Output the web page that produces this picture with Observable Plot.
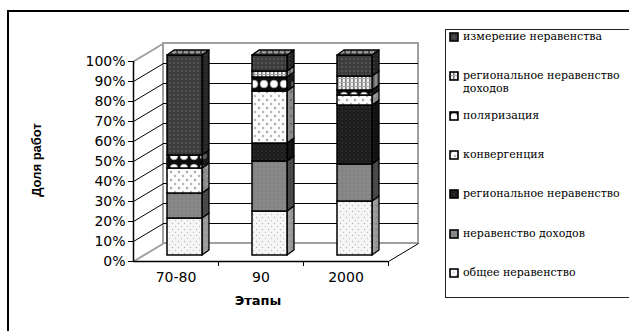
<!DOCTYPE html>
<html><head><meta charset="utf-8">
<script src="https://cdn.jsdelivr.net/npm/d3@7"></script>
<script src="https://cdn.jsdelivr.net/npm/@observablehq/plot@0.6"></script>
<style>
html,body{margin:0;padding:0;background:#fff;}
body{width:629px;height:331px;overflow:hidden;position:relative;}
#frame{position:absolute;left:7px;top:10px;width:700px;height:400px;border:2px solid #000;box-sizing:border-box;}
#chart{position:absolute;left:0;top:0;}
#legend{position:absolute;left:445px;top:29px;width:250px;height:269px;border:1px solid #222;box-sizing:border-box;font-family:"DejaVu Serif",serif;font-size:11px;color:#000;}
.row{position:absolute;left:3px;display:flex;align-items:flex-start;line-height:13px;}
.row svg{margin-top:2px;margin-right:4px;flex:none;}
.row span{max-width:168px;}
#ytitle{position:absolute;left:36px;top:160px;transform:translate(-50%,-50%) rotate(-90deg);font-family:"Liberation Sans",Arial,sans-serif;font-weight:bold;font-size:13px;white-space:nowrap;}
#xtitle{position:absolute;left:258px;top:300px;transform:translate(-50%,-50%);font-family:"DejaVu Sans",sans-serif;font-weight:bold;font-size:13px;white-space:nowrap;}
</style>
</head><body>
<svg width="0" height="0" style="position:absolute">
<defs>
<pattern id="f0" width="6" height="6" patternUnits="userSpaceOnUse"><rect width="6" height="6" fill="#f6f6f6"/><circle cx="1.5" cy="1.5" r="0.7" fill="#b4b4b4"/><circle cx="4.5" cy="4.5" r="0.7" fill="#c4c4c4"/></pattern>
<pattern id="s0" width="6" height="6" patternUnits="userSpaceOnUse"><rect width="6" height="6" fill="#9a9a9a"/><circle cx="1.5" cy="1.5" r="0.8" fill="#7a7a7a"/><circle cx="4.5" cy="4.5" r="0.8" fill="#b0b0b0"/></pattern>
<pattern id="f1" width="4" height="4" patternUnits="userSpaceOnUse"><rect width="4" height="4" fill="#868686"/><circle cx="1" cy="1" r="0.7" fill="#7a7a7a"/><circle cx="3" cy="3" r="0.7" fill="#929292"/></pattern>
<pattern id="s1" width="4" height="4" patternUnits="userSpaceOnUse"><rect width="4" height="4" fill="#4a4a4a"/><circle cx="1" cy="1" r="0.7" fill="#3a3a3a"/></pattern>
<pattern id="f2" width="4" height="4" patternUnits="userSpaceOnUse"><rect width="4" height="4" fill="#1c1c1c"/><circle cx="1" cy="1" r="0.8" fill="#3c3c3c"/><circle cx="3" cy="3" r="0.6" fill="#2c2c2c"/></pattern>
<pattern id="s2" width="4" height="4" patternUnits="userSpaceOnUse"><rect width="4" height="4" fill="#111"/><circle cx="1" cy="1" r="0.7" fill="#262626"/></pattern>
<pattern id="f3" width="8" height="8" patternUnits="userSpaceOnUse"><rect width="8" height="8" fill="#fbfbfb"/><circle cx="2" cy="2" r="1.2" fill="#a6a6a6"/><circle cx="6" cy="6" r="1.2" fill="#b6b6b6"/></pattern>
<pattern id="s3" width="8" height="8" patternUnits="userSpaceOnUse"><rect width="8" height="8" fill="#8c8c8c"/><circle cx="2" cy="2" r="1.2" fill="#6a6a6a"/><circle cx="6" cy="6" r="1.2" fill="#a0a0a0"/></pattern>
<pattern id="f4" width="10" height="12" patternUnits="userSpaceOnUse"><rect width="10" height="12" fill="#0c0c0c"/><circle cx="5" cy="6" r="3.8" fill="#fff" stroke="#aaa" stroke-width="0.8"/></pattern>
<pattern id="s4" width="10" height="12" patternUnits="userSpaceOnUse"><rect width="10" height="12" fill="#1a1a1a"/><circle cx="5" cy="6" r="3" fill="#5a5a5a"/></pattern>
<pattern id="f5" width="4" height="4" patternUnits="userSpaceOnUse"><rect width="4" height="4" fill="#f0f0f0"/><rect x="0" y="0" width="1.6" height="4" fill="#7a7a7a"/><rect x="0" y="0" width="4" height="1" fill="#aaa"/></pattern>
<pattern id="s5" width="4" height="4" patternUnits="userSpaceOnUse"><rect width="4" height="4" fill="#8a8a8a"/><rect x="0" y="0" width="1.6" height="4" fill="#5a5a5a"/></pattern>
<pattern id="f6" width="4" height="4" patternUnits="userSpaceOnUse"><rect width="4" height="4" fill="#3e3e3e"/><circle cx="1" cy="1" r="0.8" fill="#6a6a6a"/><circle cx="3" cy="3" r="0.6" fill="#2a2a2a"/></pattern>
<pattern id="s6" width="4" height="4" patternUnits="userSpaceOnUse"><rect width="4" height="4" fill="#242424"/><circle cx="1" cy="1" r="0.8" fill="#444"/></pattern>
<pattern id="t6" width="6" height="5" patternUnits="userSpaceOnUse"><rect width="6" height="5" fill="#4a4a4a"/><circle cx="3" cy="2.5" r="1.6" fill="#777" stroke="#ddd" stroke-width="0.7"/></pattern>
</defs>
</svg>
<div id="frame"></div>
<div id="chart"></div>
<div id="legend"></div>
<div id="ytitle">Доля работ</div>
<div id="xtitle">Этапы</div>
<script>
// ---- data ----
const categories = ["70-80", "90", "2000"];
const seriesNames = ["общее неравенство", "неравенство доходов", "региональное неравенство", "конвергенция", "поляризация", "региональное неравенство доходов", "измерение неравенства"];
const obshchee      = [18.5, 22, 27];
const dokhody       = [12.5, 25, 18.5];
const regionalnoe   = [0, 9, 29.5];
const konvergenciya = [12.5, 26, 5];
const polyarizaciya = [6.5, 7, 2.5];
const regDokhody    = [0, 3, 7];
const izmerenie     = [50, 8, 10.5];
const yTickValues   = [0, 10, 20, 30, 40, 50, 60, 70, 80, 90, 100];
const yTickLabels   = ["0%", "10%", "20%", "30%", "40%", "50%", "60%", "70%", "80%", "90%", "100%"];

const seriesValues = [obshchee, dokhody, regionalnoe, konvergenciya, polyarizaciya, regDokhody, izmerenie];

// ---- layout / style constants ----
const W = 440, H = 331, ML = 133, MR = 52, MT = 61, MB = 70;
const n = categories.length;
const pxX = (W - ML - MR) / n;       // pixels per category unit
const pxY = (H - MT - MB);           // pixels per 100%
const WALL_PX = [30, -18];           // depth offset of back wall in pixels
const BAR_PX = [9, -6];              // bar placement offset in pixels
const DEPTH_PX = [7, -5];            // bar depth in pixels
const HALF_W = 17.5 / pxX;
const wdx = WALL_PX[0] / pxX, wdy = -WALL_PX[1] / pxY;
const bdx = DEPTH_PX[0] / pxX, bdy = -DEPTH_PX[1] / pxY;

// ---- stacked segments ----
const fronts = [], sides = [], tops = [];
categories.forEach((c, i) => {
  let cum = 0;
  const xc = i + 0.5, x1 = xc - HALF_W, x2 = xc + HALF_W;
  seriesValues.forEach((vals, k) => {
    const v = vals[i];
    if (v > 0) {
      const y0 = cum / 100, y1 = (cum + v) / 100;
      fronts.push({k, cat: c, x1, x2, y0, y1});
      const key = c + "|" + k;
      sides.push({k, key, x: x2, y1: y0, y2: y1});
      sides.push({k, key, x: x2 + bdx, y1: y0 + bdy, y2: y1 + bdy});
    }
    cum += v;
  });
  tops.push({key: c, y: cum / 100, x1, x2});
  tops.push({key: c, y: cum / 100 + bdy, x1: x1 + bdx, x2: x2 + bdx});
});

const yT = yTickValues.map(v => v / 100);
const inner = yT.filter(t => t > 0 && t < 1);

const marks = [
  // back wall
  Plot.rect([0], {x1: 0, x2: n, y1: 0, y2: 1, dx: WALL_PX[0], dy: WALL_PX[1], fill: "#fff", stroke: "#a0a0a0", strokeWidth: 2}),
  Plot.ruleY(inner, {x1: 0, x2: n, dx: WALL_PX[0], dy: WALL_PX[1], stroke: "#000", strokeWidth: 1}),
  // side wall diagonals
  Plot.link(inner, {x1: 0, y1: d => d, x2: wdx, y2: d => d + wdy, stroke: "#000", strokeWidth: 1}),
  Plot.link([0, 1], {x1: 0, y1: d => d, x2: wdx, y2: d => d + wdy, stroke: "#a0a0a0", strokeWidth: 2}),
  Plot.link([n], {x1: d => d, y1: 0, x2: d => d + wdx, y2: wdy, stroke: "#000", strokeWidth: 1}),
  // axes lines
  Plot.ruleX([0], {y1: 0, y2: 1, stroke: "#000", strokeWidth: 1.5}),
  Plot.ruleY([0], {x1: 0, x2: n, stroke: "#000", strokeWidth: 1.5}),
  Plot.axisY(yT, {tickSize: 5, tickPadding: 3, tickFormat: (d, i) => yTickLabels[i]}),
  Plot.axisX(d3.range(1, n + 1), {tickSize: 5, tickFormat: () => ""}),
  Plot.axisX(categories.map((c, i) => i + 0.5), {tickSize: 0, tickPadding: 11, tickFormat: (d, i) => categories[i]})
];

seriesNames.forEach((s, k) => {
  const fr = fronts.filter(d => d.k === k);
  const sd = sides.filter(d => d.k === k);
  marks.push(Plot.area(sd, {x1: "x", y1: "y1", y2: "y2", z: "key", fill: `url(#s${k})`, stroke: "#000", strokeWidth: 1.3, dx: BAR_PX[0], dy: BAR_PX[1]}));
  marks.push(Plot.rect(fr, {x1: "x1", x2: "x2", y1: "y0", y2: "y1", fill: `url(#f${k})`, stroke: "#000", strokeWidth: 1.5, dx: BAR_PX[0], dy: BAR_PX[1]}));
});
marks.push(Plot.area(tops, {y1: "y", x1: "x1", x2: "x2", z: "key", fill: "url(#t6)", stroke: "#000", strokeWidth: 1.3, dx: BAR_PX[0], dy: BAR_PX[1]}));

const chart = Plot.plot({
  width: W, height: H,
  marginLeft: ML, marginRight: MR, marginTop: MT, marginBottom: MB,
  x: {type: "linear", domain: [0, n]},
  y: {type: "linear", domain: [0, 1]},
  style: {fontFamily: "DejaVu Sans, sans-serif", fontSize: "14px", color: "#000", background: "transparent", overflow: "visible"},
  marks
});
document.getElementById("chart").appendChild(chart);

// ---- legend ----
const legend = document.getElementById("legend");
const ROW = 39.3;
seriesNames.slice().reverse().forEach((s, j) => {
  const k = seriesNames.length - 1 - j;
  const row = document.createElement("div");
  row.className = "row";
  row.style.top = (j * ROW) + "px";
  row.innerHTML = `<svg width="10" height="10"><rect x="1" y="1" width="8" height="8" fill="url(#f${k})" stroke="#000" stroke-width="1.6"/></svg><span>${s}</span>`;
  legend.appendChild(row);
});
</script>
</body></html>
